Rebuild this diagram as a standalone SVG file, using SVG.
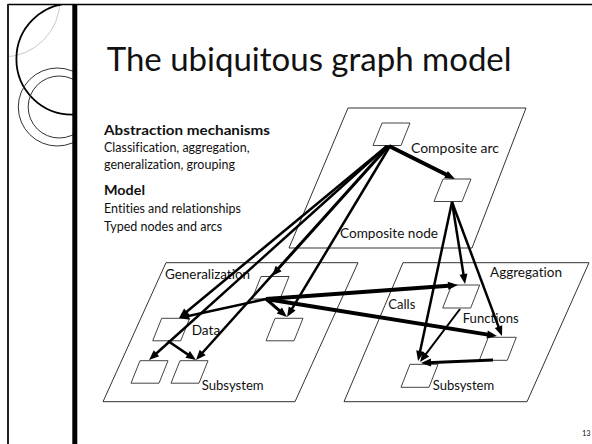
<svg xmlns="http://www.w3.org/2000/svg" width="592" height="444" viewBox="0 0 592 444">
<style>
text{font-variant-ligatures:none;font-feature-settings:"liga" 0,"dlig" 0}
.plane{fill:none;stroke:#333;stroke-width:1}
.node{fill:#fff;stroke:#444;stroke-width:1}
.lbl{font-family:Lato,"Open Sans","Liberation Sans",sans-serif;font-size:14px;fill:#111}
.body{font-family:Lato,"Open Sans","Liberation Sans",sans-serif;font-size:12.5px;fill:#111}
.b{font-weight:bold}
.c{fill:none;stroke:#000;marker-end:url(#ah)}
.w2{stroke-width:2}
.w25{stroke-width:2.5}
.w3{stroke-width:3}
.w4{stroke-width:4}
</style>
<defs>
<marker id="ah" markerUnits="userSpaceOnUse" markerWidth="10" markerHeight="8" refX="4" refY="4" orient="auto" overflow="visible">
<path d="M0,0 L10,4 L0,8 z" fill="#000"/>
</marker>
<clipPath id="cl"><rect x="9" y="5" width="64" height="439"/></clipPath>
</defs>
<rect width="592" height="444" fill="#fff"/>
<g id="decor">
<g clip-path="url(#cl)">
<circle cx="3" cy="0" r="57" fill="none" stroke="#c8c8c8" stroke-width="1"/>
<circle cx="72" cy="59" r="55.6" fill="none" stroke="#000" stroke-width="1.8"/>
<circle cx="57.3" cy="107" r="39" fill="none" stroke="#333" stroke-width="1"/>
<circle cx="59.2" cy="107" r="31" fill="none" stroke="#333" stroke-width="1"/>
</g>
<line x1="8" y1="4.5" x2="592" y2="4.5" stroke="#000" stroke-width="1.5"/>
<line x1="8" y1="4" x2="8" y2="444" stroke="#222" stroke-width="2"/>
<rect x="72.3" y="4" width="5" height="440" fill="#000"/>
</g>
<text x="106.7" y="70.7" font-family="Lato,'Open Sans','Liberation Sans',sans-serif" font-size="33" fill="#111">The ubiquitous graph model</text>
<g id="notes">
<text class="body b" x="104" y="134.5" textLength="166" lengthAdjust="spacingAndGlyphs">Abstraction mechanisms</text>
<text class="body" x="104" y="151.5">Classification, aggregation,</text>
<text class="body" x="104" y="169">generalization, grouping</text>
<text class="body b" x="104" y="195" textLength="41" lengthAdjust="spacingAndGlyphs">Model</text>
<text class="body" x="104" y="213">Entities and relationships</text>
<text class="body" x="104" y="230.5">Typed nodes and arcs</text>
</g>
<g id="plane-composite">
<path class="plane" d="M348,108 L526,108 L472,248 L289,248 Z"/>
<text class="lbl" x="411" y="153.3" textLength="88" lengthAdjust="spacingAndGlyphs">Composite arc</text>
<text class="lbl" x="340" y="237.7" textLength="98" lengthAdjust="spacingAndGlyphs">Composite node</text>
</g>
<g id="plane-generalization">
<path class="plane" d="M166,262.7 L358,262.7 L295,401.7 L103,401.7 Z"/>
<text class="lbl" x="165" y="279.3" textLength="85" lengthAdjust="spacingAndGlyphs">Generalization</text>
<text class="lbl" x="191.7" y="335" textLength="28.5" lengthAdjust="spacingAndGlyphs">Data</text>
<text class="lbl" x="201.7" y="390" textLength="62" lengthAdjust="spacingAndGlyphs">Subsystem</text>
</g>
<g id="plane-aggregation">
<path class="plane" d="M403,262.7 L589,262.7 L527,401.7 L344,401.7 Z"/>
<text class="lbl" x="490" y="276.7" textLength="72" lengthAdjust="spacingAndGlyphs">Aggregation</text>
<text class="lbl" x="388.3" y="309.3" textLength="27" lengthAdjust="spacingAndGlyphs">Calls</text>
<text class="lbl" x="462.7" y="323.3" textLength="56" lengthAdjust="spacingAndGlyphs">Functions</text>
<text class="lbl" x="432.7" y="390" textLength="61.5" lengthAdjust="spacingAndGlyphs">Subsystem</text>
</g>
<g id="n1"><path class="node" d="M382,123 h28 l-9,22.5 h-28 z"/></g>
<g id="n2"><path class="node" d="M443,179 h28 l-9,22.5 h-28 z"/></g>
<g id="g1"><path class="node" d="M261,276.5 h28 l-9,22.5 h-28 z"/></g>
<g id="g2"><path class="node" d="M275,318.3 h28 l-9,22.5 h-28 z"/></g>
<g id="data"><path class="node" d="M161.7,318.3 h28 l-9,22.5 h-28 z"/></g>
<g id="suba"><path class="node" d="M140,360.7 h28 l-9,22.5 h-28 z"/></g>
<g id="subb"><path class="node" d="M180,360.7 h28 l-9,22.5 h-28 z"/></g>
<g id="a1"><path class="node" d="M451.7,285 h28 l-9,23 h-28 z"/></g>
<g id="a2"><path class="node" d="M488.3,337.3 h28 l-9,23 h-28 z"/></g>
<g id="a3"><path class="node" d="M410,364.3 h28 l-9,23 h-28 z"/></g>
<g id="connectors">
<line class="c w4" x1="389" y1="146" x2="449.6" y2="176.3"/>
<line class="c w25" x1="387" y1="146" x2="183.6" y2="314.2"/>
<line class="c w25" x1="387" y1="146" x2="153.5" y2="356"/>
<line class="c w25" x1="388" y1="146" x2="200" y2="355.5"/>
<line class="c w25" x1="389" y1="146" x2="276" y2="271.5"/>
<line class="c w25" x1="390" y1="146" x2="290.1" y2="311.9"/>
<line class="c w25" x1="452" y1="202" x2="464.1" y2="278.1"/>
<line class="c w25" x1="452" y1="202" x2="499.9" y2="330.4"/>
<line class="c w25" x1="452" y1="202" x2="419.3" y2="355.1"/>
<line class="c w3" x1="266" y1="299" x2="282.4" y2="313.1"/>
<line class="c w25" x1="266" y1="299" x2="184.9" y2="316.7"/>
<line class="c w4" x1="266" y1="299" x2="452" y2="285.4"/>
<line class="c w4" x1="266" y1="299" x2="491.1" y2="335.1"/>
<line class="c w25" x1="168" y1="341" x2="191" y2="356.6"/>
<line class="c w2" x1="460" y1="309" x2="423.6" y2="357.2"/>
<line class="c w3" x1="493" y1="360" x2="427" y2="362.75"/>
</g>
<text x="582" y="436" font-family="Lato,'Liberation Sans',sans-serif" font-size="7.5" fill="#111">13</text>
</svg>
